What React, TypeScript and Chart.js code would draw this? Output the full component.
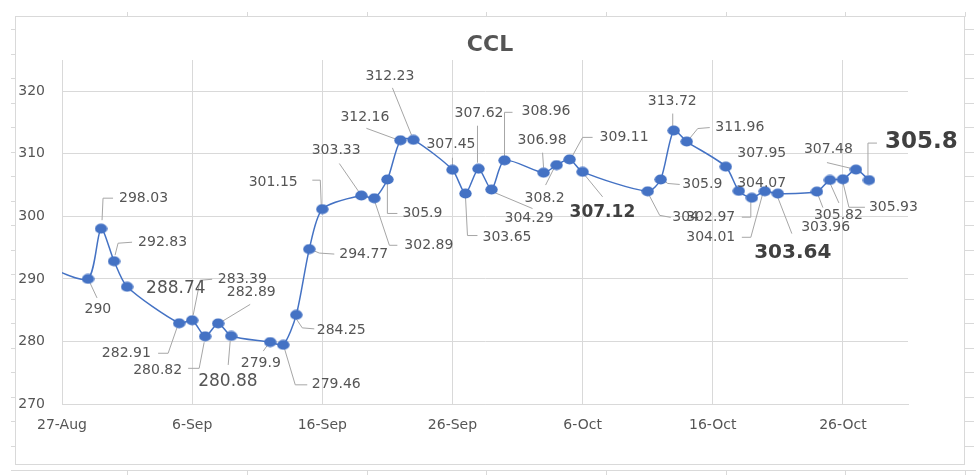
import React, { useEffect, useRef } from "react";
import { Chart, registerables } from "chart.js";

Chart.register(...registerables);

// ---------------- data ----------------
const TITLE = "CCL";
const DATES = [
  "2022-08-26", "2022-08-29", "2022-08-30", "2022-08-31", "2022-09-01",
  "2022-09-05", "2022-09-06", "2022-09-07", "2022-09-08", "2022-09-09",
  "2022-09-12", "2022-09-13", "2022-09-14", "2022-09-15", "2022-09-16",
  "2022-09-19", "2022-09-20", "2022-09-21", "2022-09-22", "2022-09-23",
  "2022-09-26", "2022-09-27", "2022-09-28", "2022-09-29", "2022-09-30",
  "2022-10-03", "2022-10-04", "2022-10-05", "2022-10-06",
  "2022-10-11", "2022-10-12", "2022-10-13", "2022-10-14",
  "2022-10-17", "2022-10-18", "2022-10-19", "2022-10-20", "2022-10-21",
  "2022-10-24", "2022-10-25", "2022-10-26", "2022-10-27", "2022-10-28",
];
const CCL = [
  291.8, 290, 298.03, 292.83, 288.74,
  282.91, 283.39, 280.82, 282.89, 280.88,
  279.9, 279.46, 284.25, 294.77, 301.15,
  303.33, 302.89, 305.9, 312.16, 312.23,
  307.45, 303.65, 307.62, 304.29, 308.96,
  306.98, 308.2, 309.11, 307.12,
  304, 305.9, 313.72, 311.96,
  307.95, 304.07, 302.97, 304.01, 303.64,
  303.96, 305.82, 305.93, 307.48, 305.8,
];
const X_START = "2022-08-27";
const X_END = "2022-10-31";
const X_TICK_STEP_DAYS = 10;
const Y_MIN = 270;
const Y_MAX = 325;
const Y_STEP = 10;
const MONTHS = ["Jan", "Feb", "Mar", "Apr", "May", "Jun", "Jul", "Aug", "Sep", "Oct", "Nov", "Dec"];

// ---------------- label layout (styling) ----------------
// [dx, dy, fontStyleIndex, leader path relative to the point]
type Lay = [number, number, number, number[][]] | null;
const LABEL_LAYOUT: Lay[] = [
  null,
  [-3.5, 30, 0, [[2, 4], [9, 19]]],
  [18, -30.5, 0, [[1, -8.5], [2, -30.5], [12, -30.5]]],
  [24, -19, 0, [[1, -6], [4, -18], [18, -19]]],
  [19, 2, 1, []],
  [-77.3, 30, 0, [[-21, 30], [-11, 30], [-2, 4]]],
  [25.7, -41, 0, [[1, -5], [8, -40], [20, -41]]],
  [-72, 34, 0, [[-17, 32], [-6, 32], [-1, 6]]],
  [8.6, -31, 0, [[4, -2], [32, -19]]],
  [-33, 46, 1, [[-1, 5], [-3, 29]]],
  [-29.5, 21, 0, [[-2, 2], [-7, 9]]],
  [28.5, 40, 0, [[1, 3], [12, 40], [24, 40]]],
  [20.5, 15, 0, [[0, 4], [6, 13], [18, 14]]],
  [30, 5, 0, [[3, 1], [10, 4], [25, 5]]],
  [-73.6, -27, 0, [[-10, -29], [-2, -29], [-1, -3]]],
  [-49.7, -45, 0, [[-22, -32], [-2, -3]]],
  [30, 47, 0, [[0, 2], [15, 47], [23, 47]]],
  [15, 34, 0, [[0, 3], [0, 34], [10, 34]]],
  [-60, -23, 0, [[-34, -12], [-4, -1]]],
  [-48, -63.6, 0, [[-21, -52], [-2, -5]]],
  [-26, -25, 0, [[0, -12], [0, -3]]],
  [17, 44, 0, [[0, 3], [2, 42], [12, 42]]],
  [-24, -55, 0, [[-1, -43], [-1, -6]]],
  [13, 29, 0, [[3, 3], [41, 19]]],
  [17, -49, 0, [[0, -4], [0, -48], [8, -48]]],
  [-26, -32.5, 0, [[-1, -20], [0, -5]]],
  [-32, 33, 0, [[-11, 20], [-2, 2]]],
  [30, -22, 0, [[2, -2], [13, -22], [23, -22]]],
  [-13, 40.5, 2, [[2, 3], [20, 25]]],
  [24.6, 26, 0, [[1, 3], [12, 24], [23, 26]]],
  [21.6, 5, 0, [[3, 1], [7, 4], [19, 5]]],
  [-26, -29, 0, [[-1, -17], [-1, -4]]],
  [28.6, -14, 0, [[2, -2], [11, -13], [23, -14]]],
  [11.5, -13, 0, []],
  [-1.6, -8, 0, []],
  [-65.6, 19.4, 0, [[-10, 19.4], [-1, 19.4], [-1, 3]]],
  [-78.6, 46, 0, [[-23, 46], [-14, 46], [-2, 2]]],
  [-23.7, 59, 3, [[0, 4], [14, 40]]],
  [-15.7, 36, 0, [[1, 3], [6, 16]]],
  [-16, 35, 0, [[0, 3], [9, 23]]],
  [26, 28, 0, [[0, 3], [6, 28], [22, 28]]],
  [-52, -20, 0, [[-29, -7], [-4, -1]]],
  [16, -37.6, 4, [[-1, -5], [-1, -37], [8, -37]]],
];

const FAMILY = "'DejaVu Sans', sans-serif";
const LABEL_FONTS = [
  `14px ${FAMILY}`,
  `17px ${FAMILY}`,
  `bold 17px ${FAMILY}`,
  `bold 20px ${FAMILY}`,
  `bold 23px ${FAMILY}`,
];
const TEXT = "#555555";
const TEXT_BOLD = "#404040";
const BLUE = "#4472C4";
const GRID = "#d9d9d9";

const DAY = 86400000;
const toUTC = (s: string) => {
  const [y, m, d] = s.split("-").map(Number);
  return Date.UTC(y, m - 1, d);
};
const dayIndex = (s: string) => Math.round((toUTC(s) - toUTC(X_START)) / DAY);

function makeMarker(): HTMLCanvasElement {
  const c = document.createElement("canvas");
  c.width = 13;
  c.height = 11;
  const g = c.getContext("2d")!;
  g.fillStyle = BLUE;
  g.beginPath();
  g.ellipse(6.5, 5.5, 6.2, 5.1, 0, 0, Math.PI * 2);
  g.fill();
  return c;
}

const sheetPlugin = {
  id: "sheet",
  beforeDraw(chart: any) {
    const ctx = chart.ctx as CanvasRenderingContext2D;
    ctx.save();
    ctx.fillStyle = "#ffffff";
    ctx.fillRect(0, 0, chart.width, chart.height);
    ctx.strokeStyle = "#d9d9d9";
    ctx.lineWidth = 1;
    ctx.strokeRect(15.5, 16.5, 949, 448);
    const cols = [127, 247, 367, 486, 606, 726, 845, 965];
    ctx.beginPath();
    cols.forEach((c) => {
      ctx.moveTo(c + 0.5, 12);
      ctx.lineTo(c + 0.5, 16.5);
      ctx.moveTo(c + 0.5, 470);
      ctx.lineTo(c + 0.5, 475);
    });
    for (let k = 0; k <= 18; k++) {
      const y = Math.round(29 + 24.5 * k) + 0.5;
      ctx.moveTo(11, y);
      ctx.lineTo(15.5, y);
      ctx.moveTo(965, y);
      ctx.lineTo(974, y);
    }
    ctx.moveTo(12, 470.5);
    ctx.lineTo(976, 470.5);
    ctx.moveTo(965.5, 12);
    ctx.lineTo(965.5, 16.5);
    ctx.stroke();
    ctx.restore();
  },
  afterDraw(chart: any) {
    const ctx = chart.ctx as CanvasRenderingContext2D;
    ctx.save();
    ctx.font = `bold 22px ${FAMILY}`;
    ctx.fillStyle = TEXT;
    ctx.textAlign = "center";
    ctx.textBaseline = "middle";
    ctx.fillText(TITLE, 490, 45);
    ctx.restore();
  },
};

const labelPlugin = {
  id: "excelLabels",
  beforeDatasetsDraw(chart: any) {
    const ctx = chart.ctx as CanvasRenderingContext2D;
    const meta = chart.getDatasetMeta(0);
    ctx.save();
    ctx.strokeStyle = "#a6a6a6";
    ctx.lineWidth = 1;
    meta.data.forEach((pt: any, i: number) => {
      const L = LABEL_LAYOUT[i];
      if (!L || L[3].length < 2) return;
      ctx.beginPath();
      L[3].forEach(([dx, dy], j) => {
        const x = pt.x + dx;
        const y = pt.y + dy;
        if (j === 0) ctx.moveTo(x, y);
        else ctx.lineTo(x, y);
      });
      ctx.stroke();
    });
    ctx.restore();
  },
  afterDatasetsDraw(chart: any) {
    const ctx = chart.ctx as CanvasRenderingContext2D;
    const meta = chart.getDatasetMeta(0);
    ctx.save();
    ctx.textAlign = "left";
    ctx.textBaseline = "middle";
    meta.data.forEach((pt: any, i: number) => {
      const L = LABEL_LAYOUT[i];
      if (!L) return;
      ctx.font = LABEL_FONTS[L[2]];
      ctx.fillStyle = L[2] >= 2 ? TEXT_BOLD : TEXT;
      ctx.fillText(String(CCL[i]), pt.x + L[0], pt.y + L[1]);
    });
    ctx.restore();
  },
};

export default function App() {
  const ref = useRef<HTMLCanvasElement | null>(null);
  useEffect(() => {
    if (!ref.current) return;
    const points = DATES.map((d, i) => ({ x: dayIndex(d), y: CCL[i] }));
    const chart = new Chart(ref.current, {
      type: "line",
      data: {
        datasets: [
          {
            label: TITLE,
            data: points,
            borderColor: BLUE,
            backgroundColor: BLUE,
            borderWidth: 1.5,
            tension: 0.25,
            pointStyle: makeMarker() as any,
            pointRadius: 6,
            pointHoverRadius: 6,
            clip: 0 as any,
          },
        ],
      },
      options: {
        animation: false,
        responsive: false,
        devicePixelRatio: 1,
        events: [],
        layout: { padding: { top: 60, right: 72, left: 0, bottom: 0 } },
        plugins: {
          legend: { display: false },
          title: { display: false },
          tooltip: { enabled: false },
        },
        scales: {
          x: {
            type: "linear",
            min: 0,
            max: dayIndex(X_END),
            afterFit: (s: any) => {
              s.height = 71;
            },
            grid: { color: GRID, drawTicks: false, lineWidth: 1 },
            border: { display: true, color: GRID },
            ticks: {
              stepSize: X_TICK_STEP_DAYS,
              includeBounds: false,
              autoSkip: false,
              maxRotation: 0,
              color: TEXT,
              font: { family: FAMILY, size: 14 },
              padding: 13,
              callback: (v: any) => {
                const d = new Date(toUTC(X_START) + Number(v) * DAY);
                return `${d.getUTCDate()}-${MONTHS[d.getUTCMonth()]}`;
              },
            },
          },
          y: {
            type: "linear",
            min: Y_MIN,
            max: Y_MAX,
            afterFit: (s: any) => {
              s.width = 62;
            },
            grid: { color: GRID, drawTicks: false, lineWidth: 1 },
            border: { display: true, color: GRID },
            ticks: {
              stepSize: Y_STEP,
              includeBounds: false,
              color: TEXT,
              font: { family: FAMILY, size: 14 },
              padding: 17,
            },
          },
        },
      },
      plugins: [sheetPlugin, labelPlugin],
    });
    return () => chart.destroy();
  }, []);
  return (
    <div style={{ position: "fixed", left: 0, top: 0, width: 980, height: 475, background: "#fff" }}>
      <canvas ref={ref} width={980} height={475} style={{ display: "block", width: 980, height: 475 }} />
    </div>
  );
}
